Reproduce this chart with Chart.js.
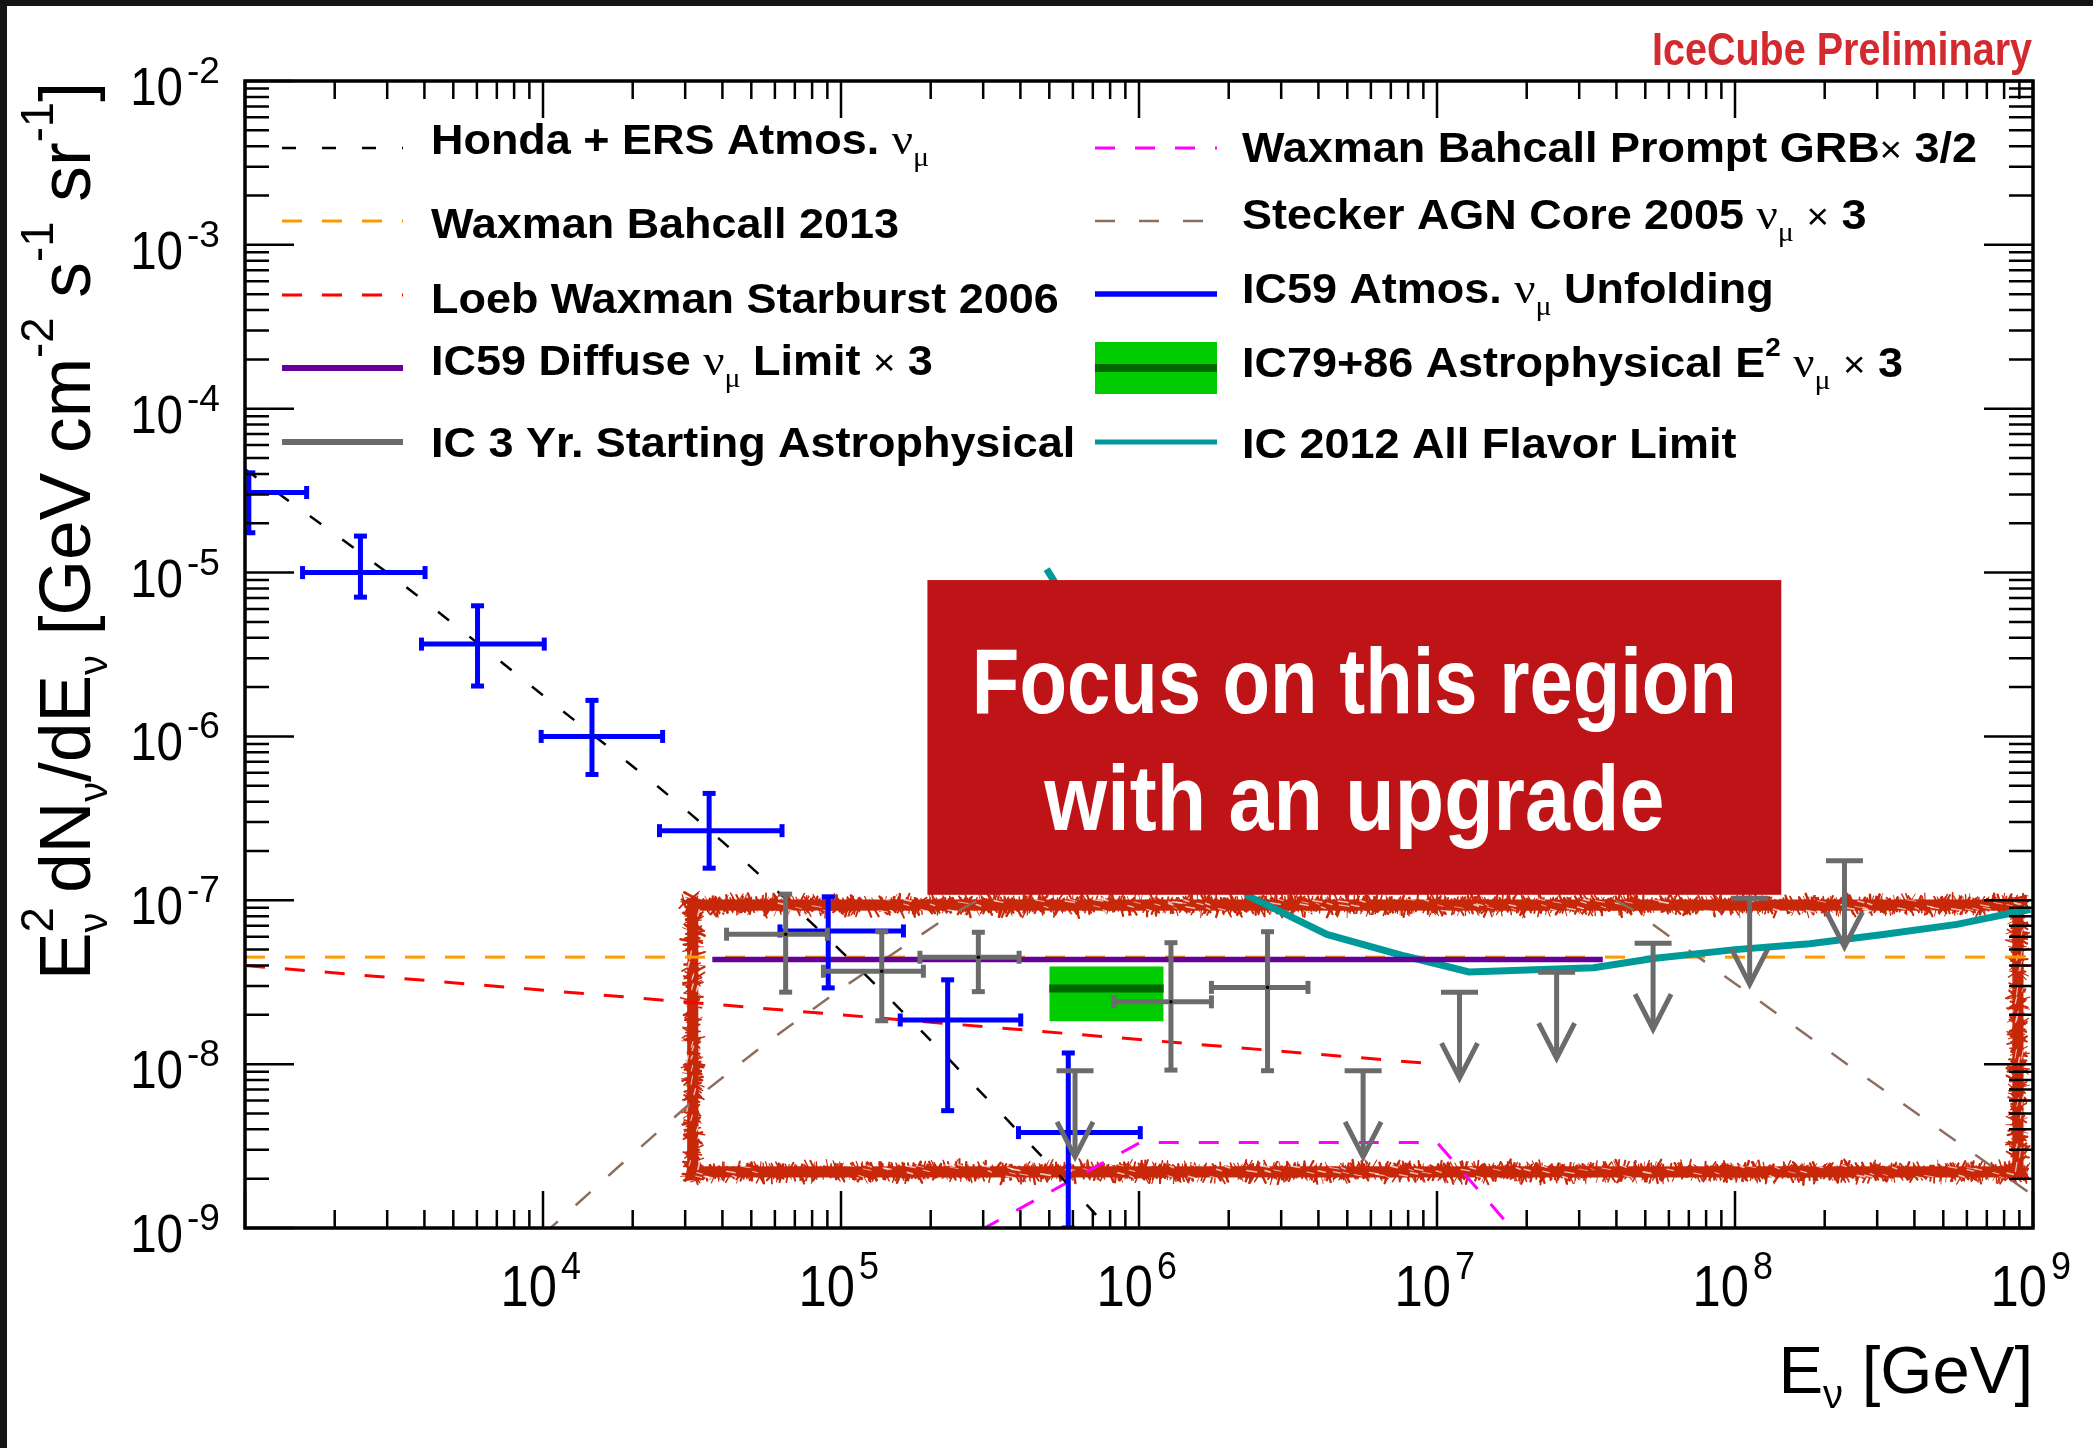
<!DOCTYPE html>
<html>
<head>
<meta charset="utf-8">
<script src="https://cdn.jsdelivr.net/npm/chart.js@4.4.1/dist/chart.umd.min.js"></script>
<style>
  html, body { margin: 0; padding: 0; background: #fff; }
  canvas { display: block; }
</style>
</head>
<body>
<canvas id="flux" width="2093" height="1448" style="width:2093px;height:1448px"></canvas>
<script>
// Energies in GeV, fluxes as E^2 dN/dE in GeV cm^-2 s^-1 sr^-1
const hondaE    = [1e3, 3.16e3, 1e4, 3.16e4, 1e5, 3.16e5, 1e6];
const hondaFlux = [4.27e-5, 9.3e-6, 1.78e-6, 3.31e-7, 4.9e-8, 5.9e-9, 6.3e-10];

const wb2013E    = [1e3, 1e9];
const wb2013Flux = [4.5e-8, 4.5e-8];

const loebE    = [1e3, 1e7];
const loebFlux = [4.0e-8, 1.0e-8];

const ic59DiffE    = [3.7e4, 3.6e7];
const ic59DiffFlux = [4.35e-8, 4.35e-8];

const grbE    = [1e5, 1.01e6, 1e7, 3.16e7];
const grbFlux = [3.3e-10, 3.33e-9, 3.33e-9, 3.0e-10];

const steckerE    = [1e4, 1.78e4, 3.16e4, 5.62e4, 1e5, 2.24e5, 6.31e5, 2.0e6, 6.31e6, 1.58e7, 4.47e7, 2.34e8, 1e9];
const steckerFlux = [9.1e-10, 2.34e-9, 5.89e-9, 1.35e-8, 2.88e-8, 7.76e-8, 2.24e-7, 4.47e-7, 3.98e-7, 2.4e-7, 8.91e-8, 1.02e-8, 1.58e-9];

const ic2012E    = [4.9e5, 2.33e6, 2.88e6, 4.27e6, 7.8e6, 1.28e7, 3.35e7, 5.31e7, 1.0e8, 1.78e8, 3.14e8, 5.55e8, 9.8e8];
const ic2012Flux = [1.05e-5, 1.06e-7, 8.8e-8, 6.19e-8, 4.57e-8, 3.65e-8, 3.88e-8, 4.41e-8, 5.0e-8, 5.43e-8, 6.19e-8, 7.13e-8, 8.81e-8];

const ic7986E     = [5.0e5, 1.21e6];
const ic7986Best  = [2.89e-8, 2.89e-8];
const ic7986Upper = [3.94e-8, 3.94e-8];
const ic7986Lower = [1.83e-8, 1.83e-8];

// IC59 unfolded atmospheric numu spectrum
const unfoldE      = [1.03e3, 2.44e3, 6.03e3, 1.46e4, 3.61e4, 9.06e4, 2.28e5, 5.79e5];
const unfoldEMin   = [6.3e2, 1.56e3, 3.91e3, 9.86e3, 2.46e4, 6.24e4, 1.58e5, 3.94e5];
const unfoldEMax   = [1.61e3, 4.02e3, 1.01e4, 2.52e4, 6.34e4, 1.62e5, 4.01e5, 1.01e6];
const unfoldFlux   = [3.08e-5, 1.0e-5, 3.66e-6, 1.0e-6, 2.66e-7, 6.5e-8, 1.86e-8, 3.82e-9];
const unfoldFluxLo = [1.75e-5, 7.08e-6, 2.03e-6, 5.86e-7, 1.57e-7, 2.92e-8, 5.2e-9, 1.0e-9];
const unfoldFluxHi = [4.06e-5, 1.67e-5, 6.27e-6, 1.66e-6, 4.49e-7, 1.05e-7, 3.27e-8, 1.17e-8];

// 3-year starting-event spectrum and its upper limits
const heseE      = [6.52e4, 1.37e5, 2.89e5, 1.28e6, 2.70e6];
const heseEMin   = [4.13e4, 8.73e4, 1.84e5, 8.24e5, 1.75e6];
const heseEMax   = [9.0e4, 1.89e5, 3.96e5, 1.75e6, 3.69e6];
const heseFlux   = [6.21e-8, 3.69e-8, 4.49e-8, 2.40e-8, 2.94e-8];
const heseFluxLo = [2.75e-8, 1.84e-8, 2.77e-8, 9.2e-9, 9.12e-9];
const heseFluxHi = [1.09e-7, 6.43e-8, 6.38e-8, 5.51e-8, 6.43e-8];
const heseUlE    = [6.1e5, 5.65e6, 1.19e7, 2.52e7, 5.31e7, 1.12e8, 2.33e8];
const heseUlFlux = [9.1e-9, 9.1e-9, 2.75e-8, 3.64e-8, 5.47e-8, 1.03e-7, 1.74e-7];

// axes
const xRange = [1e3, 1e9];
const yRange = [1e-9, 1e-2];
const xLabelExp = [4, 5, 6, 7, 8, 9];
const yLabelExp = [-2, -3, -4, -5, -6, -7, -8, -9];

// highlighted region and call-out box, in data units
const sketchBox = { eMin: 3.18e4, eMax: 8.9e8, fMin: 2.2e-9, fMax: 9.35e-8 };
const focusBox  = { eMin: 1.95e5, eMax: 1.43e8, fMin: 1.08e-7, fMax: 9.0e-6 };
const focusLines = ['Focus on this region', 'with an upgrade'];

const SANS = '"Liberation Sans", Arial, Helvetica, sans-serif';
const SERIF = '"Liberation Serif", "DejaVu Serif", serif';
const GREY = '#6b6b6b';

const pts = (xs, ys) => xs.map((x, i) => ({ x, y: ys[i] }));

function curve(label, xs, ys, color, width, dash, order, extra) {
  return Object.assign({
    label, data: pts(xs, ys), showLine: true,
    borderColor: color, backgroundColor: color, borderWidth: width, borderDash: dash,
    pointRadius: 0, pointHoverRadius: 0, fill: false, tension: 0, order
  }, extra || {});
}

const heseData = heseE.map((x, i) => ({
  x, y: heseFlux[i], xMin: heseEMin[i], xMax: heseEMax[i], yMin: heseFluxLo[i], yMax: heseFluxHi[i]
}));
const unfoldData = unfoldE.map((x, i) => ({
  x, y: unfoldFlux[i], xMin: unfoldEMin[i], xMax: unfoldEMax[i], yMin: unfoldFluxLo[i], yMax: unfoldFluxHi[i]
}));

const datasets = [
  curve('Honda + ERS Atmos.', hondaE, hondaFlux, '#000000', 2.5, [14, 26], 3,
    { cubicInterpolationMode: 'monotone', legend: { col: 0, row: 0, text: 'Honda + ERS Atmos. {nu}' } }),
  curve('Waxman Bahcall 2013', wb2013E, wb2013Flux, '#ff9900', 3, [20, 20], 12,
    { legend: { col: 0, row: 1, text: 'Waxman Bahcall 2013' } }),
  curve('Loeb Waxman Starburst 2006', loebE, loebFlux, '#ff0000', 3, [20, 20], 11,
    { legend: { col: 0, row: 2, text: 'Loeb Waxman Starburst 2006' } }),
  curve('IC59 Diffuse Limit x3', ic59DiffE, ic59DiffFlux, '#660099', 5.5, [], 7,
    { legend: { col: 0, row: 3, text: 'IC59 Diffuse {nu} Limit {x} 3', width: 6 } }),
  {
    label: 'IC 3 Yr. Starting Astrophysical', data: heseData, showLine: false,
    borderColor: GREY, backgroundColor: '#000', pointRadius: 1.8, pointBorderWidth: 0,
    pointBackgroundColor: '#000', order: 0,
    errorBars: { width: 5, cap: 6.5 },
    legend: { col: 0, row: 4, text: 'IC 3 Yr. Starting Astrophysical', width: 6 }
  },
  {
    label: 'IC 3 Yr. upper limits', data: pts(heseUlE, heseUlFlux), showLine: false,
    borderColor: GREY, pointRadius: 0, order: 1,
    arrows: { width: 5, cap: 18.5, len: 86, head: 35, half: 18 }
  },
  curve('Waxman Bahcall Prompt GRB x3/2', grbE, grbFlux, '#ff00ff', 3, [20, 20], 9,
    { legend: { col: 1, row: 0, text: 'Waxman Bahcall Prompt GRB{x} 3/2' } }),
  curve('Stecker AGN Core 2005 x3', steckerE, steckerFlux, '#8c6e5f', 2.5, [20, 24], 10,
    { legend: { col: 1, row: 1, text: 'Stecker AGN Core 2005 {nu} {x} 3' } }),
  {
    label: 'IC59 Atmos. Unfolding', data: unfoldData, showLine: false,
    borderColor: '#0000ff', pointRadius: 0, order: 2,
    errorBars: { width: 5, cap: 6.5 },
    legend: { col: 1, row: 2, text: 'IC59 Atmos. {nu} Unfolding', width: 5.7 }
  },
  curve('IC79+86 band upper', ic7986E, ic7986Upper, 'rgba(0,0,0,0)', 1, [], 6,
    { fill: '+1', backgroundColor: '#00cc00' }),
  curve('IC79+86 band lower', ic7986E, ic7986Lower, 'rgba(0,0,0,0)', 1, [], 6),
  curve('IC79+86 Astrophysical x3', ic7986E, ic7986Best, '#006600', 8, [], 5,
    { legend: { col: 1, row: 3, text: 'IC79+86 Astrophysical E{^2} {nu} {x} 3', band: '#00cc00' } }),
  curve('IC 2012 All Flavor Limit', ic2012E, ic2012Flux, '#009999', 7, [], 8,
    { legend: { col: 1, row: 4, text: 'IC 2012 All Flavor Limit', width: 5 } })
];

// ---------- text helpers ----------
function textRun(ctx, tokens, x, y, sx, draw) {
  let cx = 0;
  for (const tk of tokens) {
    ctx.font = tk.font;
    const w = ctx.measureText(tk.t).width;
    if (draw) {
      ctx.save();
      ctx.translate(x + cx * sx, y + (tk.dy || 0));
      ctx.scale(sx, 1);
      ctx.fillText(tk.t, 0, 0);
      ctx.restore();
    }
    if (tk.adv !== false) cx += w;
  }
  return cx * sx;
}

function legendTokens(text) {
  const out = [];
  text.split(/(\{[^}]*\})/).forEach(part => {
    if (!part) return;
    if (part === '{nu}') {
      out.push({ t: '\u03bd', font: `44px ${SERIF}` });
      out.push({ t: '\u03bc', font: `28px ${SERIF}`, dy: 12 });
    } else if (part === '{x}') {
      out.push({ t: '\u00d7', font: `36px ${SANS}` });
    } else if (part.startsWith('{^')) {
      out.push({ t: part.slice(2, -1), font: `bold 26px ${SANS}`, dy: -21 });
    } else {
      out.push({ t: part, font: `bold 42px ${SANS}` });
    }
  });
  return out;
}

// ---------- rough highlight frame ----------
function roughFrame(ctx, l, t, r, b, w, color) {
  let seed = 20140611;
  const rnd = () => (seed = (seed * 16807) % 2147483647) / 2147483647;
  ctx.save();
  ctx.setLineDash([]);
  ctx.strokeStyle = color;
  ctx.lineWidth = w * 0.62;
  ctx.strokeRect(l, t, r - l, b - t);
  const sides = [[l, t, r, t], [r, t, r, b], [r, b, l, b], [l, b, l, t]];
  ctx.lineCap = 'round';
  for (const [x0, y0, x1, y1] of sides) {
    const len = Math.hypot(x1 - x0, y1 - y0);
    const ux = (x1 - x0) / len, uy = (y1 - y0) / len;
    const nx = -uy, ny = ux;
    const n = Math.round(len / 1.1);
    for (let i = 0; i < n; i++) {
      const s = rnd() * (len + w) - w / 2;
      const c = (rnd() - 0.5) * w * 0.45;
      const h = w * (0.18 + rnd() * 0.32);
      const k = (rnd() - 0.5) * 10;
      ctx.lineWidth = 0.7 + rnd() * 1.8;
      ctx.beginPath();
      ctx.moveTo(x0 + ux * (s - k) + nx * (c - h), y0 + uy * (s - k) + ny * (c - h));
      ctx.lineTo(x0 + ux * (s + k) + nx * (c + h), y0 + uy * (s + k) + ny * (c + h));
      ctx.stroke();
    }
  }
  ctx.strokeStyle = 'rgba(255,255,255,0.7)';
  for (const [x0, y0, x1, y1] of sides) {
    const len = Math.hypot(x1 - x0, y1 - y0);
    const ux = (x1 - x0) / len, uy = (y1 - y0) / len;
    const nx = -uy, ny = ux;
    const n = Math.round(len / 12);
    for (let i = 0; i < n; i++) {
      const s = rnd() * len;
      const c = (rnd() - 0.5) * w * 0.7;
      const k = 1.5 + rnd() * 3.5;
      ctx.lineWidth = 0.7 + rnd();
      ctx.beginPath();
      ctx.moveTo(x0 + ux * (s - k) + nx * c, y0 + uy * (s - k) + ny * c);
      ctx.lineTo(x0 + ux * (s + k) + nx * (c + 1.5), y0 + uy * (s + k) + ny * (c + 1.5));
      ctx.stroke();
    }
  }
  ctx.restore();
}

// ---------- plugins ----------
const errorBars = {
  id: 'errorBars',
  beforeDatasetDraw(chart, args) {
    const ds = chart.data.datasets[args.index];
    if (!ds.errorBars && !ds.arrows) return;
    const { ctx, chartArea: a, scales: { x, y } } = chart;
    ctx.save();
    ctx.beginPath();
    ctx.rect(a.left, a.top, a.width, a.height);
    ctx.clip();
    ctx.setLineDash([]);
    ctx.strokeStyle = ds.borderColor;
    ctx.lineCap = 'butt';
    const seg = (x0, y0, x1, y1) => { ctx.beginPath(); ctx.moveTo(x0, y0); ctx.lineTo(x1, y1); ctx.stroke(); };
    if (ds.errorBars) {
      const c = ds.errorBars.cap;
      ctx.lineWidth = ds.errorBars.width;
      ds.data.forEach(p => {
        const px = x.getPixelForValue(p.x), py = y.getPixelForValue(p.y);
        const x0 = x.getPixelForValue(p.xMin), x1 = x.getPixelForValue(p.xMax);
        const y0 = y.getPixelForValue(p.yMin), y1 = y.getPixelForValue(p.yMax);
        seg(x0, py, x1, py);
        seg(px, y1, px, y0);
        seg(x0, py - c, x0, py + c);
        seg(x1, py - c, x1, py + c);
        seg(px - c, y0, px + c, y0);
        seg(px - c, y1, px + c, y1);
      });
    }
    if (ds.arrows) {
      const o = ds.arrows;
      ctx.lineWidth = o.width;
      ds.data.forEach(p => {
        const px = x.getPixelForValue(p.x), py = y.getPixelForValue(p.y);
        const tip = py + o.len;
        seg(px - o.cap, py, px + o.cap, py);
        seg(px, py, px, tip - 2);
        ctx.beginPath();
        ctx.moveTo(px - o.half, tip - o.head);
        ctx.lineTo(px, tip);
        ctx.lineTo(px + o.half, tip - o.head);
        ctx.stroke();
      });
    }
    ctx.restore();
  }
};

const frame = {
  id: 'frame',
  beforeDraw(chart) {
    const { ctx, width, height } = chart;
    ctx.save();
    ctx.fillStyle = '#ffffff';
    ctx.fillRect(0, 0, width, height);
    ctx.fillStyle = '#141414';
    ctx.fillRect(0, 0, width, 6);
    ctx.fillRect(0, 0, 7, height);
    ctx.restore();
  },
  beforeDatasetsDraw(chart) {
    const { ctx, scales: { x, y } } = chart;
    roughFrame(ctx,
      x.getPixelForValue(sketchBox.eMin), y.getPixelForValue(sketchBox.fMax),
      x.getPixelForValue(sketchBox.eMax), y.getPixelForValue(sketchBox.fMin),
      18, '#c8280a');
  },
  afterDatasetsDraw(chart) {
    const { ctx, chartArea: a, scales: { x, y } } = chart;
    ctx.save();
    ctx.setLineDash([]);
    ctx.strokeStyle = '#000';
    ctx.fillStyle = '#000';
    ctx.textBaseline = 'alphabetic';

    // ticks on all four sides
    ctx.lineWidth = 2.5;
    ctx.beginPath();
    const xe0 = Math.round(Math.log10(xRange[0])), xe1 = Math.round(Math.log10(xRange[1]));
    for (let e = xe0; e <= xe1; e++) {
      for (let k = 1; k <= 9; k++) {
        if (e === xe1 && k > 1) break;
        const px = x.getPixelForValue(k * Math.pow(10, e));
        const len = k === 1 ? 37 : 18;
        ctx.moveTo(px, a.bottom); ctx.lineTo(px, a.bottom - len);
        ctx.moveTo(px, a.top); ctx.lineTo(px, a.top + len);
      }
    }
    const ye0 = Math.round(Math.log10(yRange[0])), ye1 = Math.round(Math.log10(yRange[1]));
    for (let e = ye0; e <= ye1; e++) {
      for (let k = 1; k <= 9; k++) {
        if (e === ye1 && k > 1) break;
        const py = y.getPixelForValue(k * Math.pow(10, e));
        const len = k === 1 ? 49 : 24;
        ctx.moveTo(a.left, py); ctx.lineTo(a.left + len, py);
        ctx.moveTo(a.right, py); ctx.lineTo(a.right - len, py);
      }
    }
    ctx.stroke();
    ctx.lineWidth = 3.5;
    ctx.strokeRect(a.left, a.top, a.width, a.height);

    // tick labels
    xLabelExp.forEach(e => {
      const px = x.getPixelForValue(Math.pow(10, e));
      ctx.save();
      ctx.translate(px + 14, a.bottom + 78);
      ctx.scale(0.89, 1);
      ctx.font = `57px ${SANS}`;
      ctx.textAlign = 'right';
      ctx.fillText('10', 0, 0);
      ctx.restore();
      ctx.save();
      ctx.translate(px + 18, a.bottom + 51);
      ctx.scale(0.92, 1);
      ctx.font = `39px ${SANS}`;
      ctx.textAlign = 'left';
      ctx.fillText(String(e), 0, 0);
      ctx.restore();
    });
    yLabelExp.forEach(e => {
      const py = y.getPixelForValue(Math.pow(10, e));
      ctx.save();
      ctx.translate(a.left - 62, py + 24);
      ctx.scale(0.88, 1);
      ctx.font = `54px ${SANS}`;
      ctx.textAlign = 'right';
      ctx.fillText('10', 0, 0);
      ctx.restore();
      ctx.save();
      ctx.translate(a.left - 58, py + 2);
      ctx.font = `37px ${SANS}`;
      ctx.textAlign = 'left';
      ctx.fillText(String(e), 0, 0);
      ctx.restore();
    });

    // axis titles
    ctx.textAlign = 'left';
    const xTitle = [
      { t: 'E', font: `67px ${SANS}` },
      { t: '\u03bd', font: `40px ${SANS}`, dy: 15 },
      { t: ' [GeV]', font: `67px ${SANS}` }
    ];
    const xw = textRun(ctx, xTitle, 0, 0, 1, false);
    textRun(ctx, xTitle, a.right - xw, a.bottom + 165, 1, true);

    const main = `72px ${SANS}`, sub = `40px ${SANS}`, sup = `46px ${SANS}`;
    const yTitle = [
      { t: 'E', font: main },
      { t: '2', font: sup, dy: -37, adv: false },
      { t: '\u03bd', font: sub, dy: 17 },
      { t: ' dN', font: main },
      { t: '\u03bd', font: sub, dy: 17 },
      { t: '/dE', font: main },
      { t: '\u03bd', font: sub, dy: 17 },
      { t: ' [GeV cm', font: main },
      { t: '-2', font: sup, dy: -37 },
      { t: ' s', font: main },
      { t: '-1', font: sup, dy: -37 },
      { t: ' sr', font: main },
      { t: '-1', font: sup, dy: -37 },
      { t: ']', font: main }
    ];
    const yw = textRun(ctx, yTitle, 0, 0, 1, false);
    ctx.save();
    ctx.translate(90, 980);
    ctx.rotate(-Math.PI / 2);
    textRun(ctx, yTitle, 0, 0, 898 / yw, true);
    ctx.restore();

    // legend
    const cols = [{ x0: 282, x1: 403, tx: 431 }, { x0: 1095, x1: 1217, tx: 1242 }];
    const rowY = [[148, 221, 295, 368, 442], [148, 221, 294, 368, 442]];
    const rowBase = [[154, 238, 313, 375, 457], [162, 229, 303, 377, 458]];
    chart.data.datasets.forEach(ds => {
      const lg = ds.legend;
      if (!lg) return;
      const c = cols[lg.col], sy = rowY[lg.col][lg.row];
      if (lg.band) {
        ctx.fillStyle = lg.band;
        ctx.fillRect(c.x0, sy - 26, c.x1 - c.x0, 52);
      }
      ctx.save();
      ctx.strokeStyle = ds.borderColor;
      ctx.lineWidth = lg.width || ds.borderWidth;
      ctx.setLineDash(ds.borderDash || []);
      ctx.beginPath();
      ctx.moveTo(c.x0, sy);
      ctx.lineTo(c.x1, sy);
      ctx.stroke();
      ctx.restore();
      ctx.fillStyle = '#000';
      textRun(ctx, legendTokens(lg.text), c.tx, rowBase[lg.col][lg.row], 1.07, true);
    });

    // call-out box
    const bx0 = x.getPixelForValue(focusBox.eMin), bx1 = x.getPixelForValue(focusBox.eMax);
    const by0 = y.getPixelForValue(focusBox.fMax), by1 = y.getPixelForValue(focusBox.fMin);
    ctx.fillStyle = '#be1418';
    ctx.fillRect(bx0, by0, bx1 - bx0, by1 - by0);
    ctx.fillStyle = '#ffffff';
    ctx.font = `bold 93px ${SANS}`;
    ctx.textAlign = 'center';
    const widths = [765, 620], bases = [133, 250];
    focusLines.forEach((line, i) => {
      const sx = widths[i] / ctx.measureText(line).width;
      ctx.save();
      ctx.translate((bx0 + bx1) / 2, by0 + bases[i]);
      ctx.scale(sx, 1);
      ctx.fillText(line, 0, 0);
      ctx.restore();
    });

    // watermark
    ctx.fillStyle = '#d22a2e';
    ctx.font = `bold 46px ${SANS}`;
    ctx.textAlign = 'right';
    const wm = 'IceCube Preliminary';
    ctx.save();
    ctx.translate(a.right - 1, 65);
    ctx.scale(380 / ctx.measureText(wm).width, 1);
    ctx.fillText(wm, 0, 0);
    ctx.restore();

    ctx.restore();
  }
};

new Chart(document.getElementById('flux'), {
  type: 'scatter',
  data: { datasets },
  options: {
    responsive: false,
    animation: false,
    devicePixelRatio: 1,
    events: [],
    layout: { padding: { left: 245, right: 60, top: 81, bottom: 220 } },
    scales: {
      x: { type: 'logarithmic', min: xRange[0], max: xRange[1], display: false },
      y: { type: 'logarithmic', min: yRange[0], max: yRange[1], display: false }
    },
    plugins: { legend: { display: false }, tooltip: { enabled: false } }
  },
  plugins: [frame, errorBars]
});
</script>
</body>
</html>
